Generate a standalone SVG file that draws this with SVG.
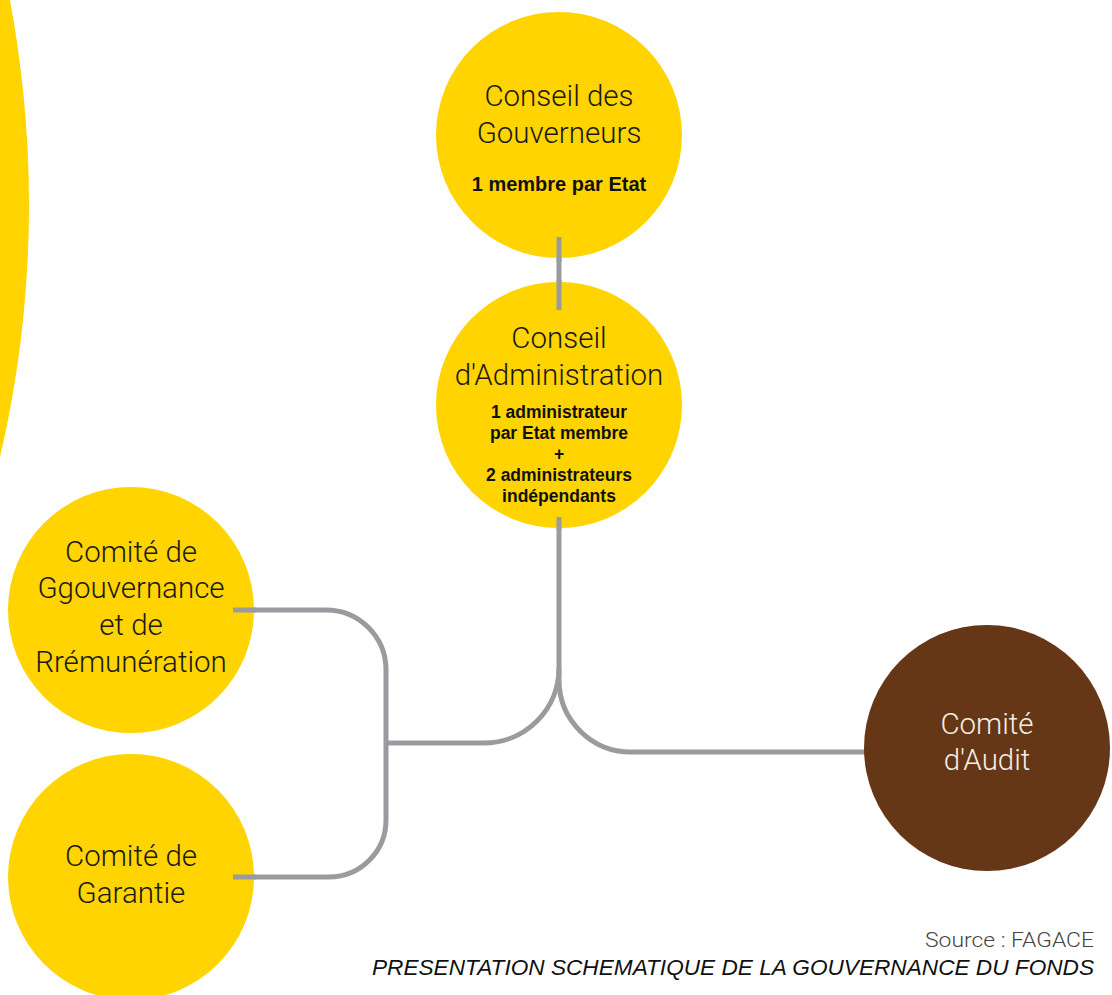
<svg xmlns="http://www.w3.org/2000/svg" width="1112" height="995" viewBox="0 0 1112 995">
<style>
.y{fill:#FFD400}
.b{fill:#653716}
.t{font-family:Roboto,"Liberation Sans",sans-serif;font-weight:300;font-size:29.5px;fill:#1a1a1a;text-anchor:middle}
.tw{fill:#f6eee4}
.s{font-family:"Liberation Sans",Arial,sans-serif;font-weight:bold;fill:#111;text-anchor:middle}
.c{fill:none;stroke:#9a9b9f;stroke-width:5}
</style>
<rect width="1112" height="995" fill="#fff"/>
<circle id="deco" cx="-1080" cy="205" r="1109" class="y"/>
<g id="connectors">
<line class="c" x1="559" y1="237" x2="559" y2="310"/>
<path class="c" d="M559 517 V668 A75 75 0 0 1 484 743 H386"/>
<path class="c" d="M559 668 V680 A72 72 0 0 0 631 752 H866"/>
<path class="c" d="M233 610 H326 A60 60 0 0 1 386 670 V820 A57 57 0 0 1 329 877 H233"/>
</g>
<g id="n-gouverneurs">
<circle cx="559" cy="135" r="123" class="y"/>
<text class="t" x="559" y="106">Conseil des</text>
<text class="t" x="559" y="143">Gouverneurs</text>
<text class="s" x="559" y="191" font-size="20">1 membre par Etat</text>
</g>
<line class="c" x1="559" y1="237" x2="559" y2="262"/>
<g id="n-administration">
<circle cx="559" cy="405" r="123" class="y"/>
<line class="c" x1="559" y1="280" x2="559" y2="310"/>
<line class="c" x1="559" y1="517" x2="559" y2="530"/>
<text class="t" x="559" y="348">Conseil</text>
<text class="t" x="559" y="385">d'Administration</text>
<g class="s" font-size="17.5">
<text x="559" y="418">1 administrateur</text>
<text x="559" y="439">par Etat membre</text>
<text x="559" y="460">+</text>
<text x="559" y="481">2 administrateurs</text>
<text x="559" y="502">indépendants</text>
</g>
</g>
<g id="n-gouvernance">
<circle cx="131" cy="610" r="123" class="y"/>
<line class="c" x1="233" y1="610" x2="256" y2="610"/>
<text class="t" x="131" y="562">Comité de</text>
<text class="t" x="131" y="598">Ggouvernance</text>
<text class="t" x="131" y="635">et de</text>
<text class="t" x="131" y="672">Rrémunération</text>
</g>
<g id="n-garantie">
<circle cx="131" cy="877" r="123" class="y"/>
<line class="c" x1="233" y1="877" x2="256" y2="877"/>
<text class="t" x="131" y="866">Comité de</text>
<text class="t" x="131" y="903">Garantie</text>
</g>
<g id="n-audit">
<circle cx="987" cy="748" r="123" class="b"/>
<text class="t tw" x="987" y="734">Comité</text>
<text class="t tw" x="987" y="770">d'Audit</text>
</g>
<g id="caption">
<text x="1094" y="947" font-family="Roboto,'Liberation Sans',sans-serif" font-weight="300" font-size="21" fill="#444" text-anchor="end" textLength="169" lengthAdjust="spacingAndGlyphs">Source : FAGACE</text>
<text x="1094" y="975" font-family="'Liberation Sans',Arial,sans-serif" font-style="italic" font-size="22" fill="#111" text-anchor="end" textLength="722" lengthAdjust="spacingAndGlyphs">PRESENTATION SCHEMATIQUE DE LA GOUVERNANCE DU FONDS</text>
</g>
</svg>
